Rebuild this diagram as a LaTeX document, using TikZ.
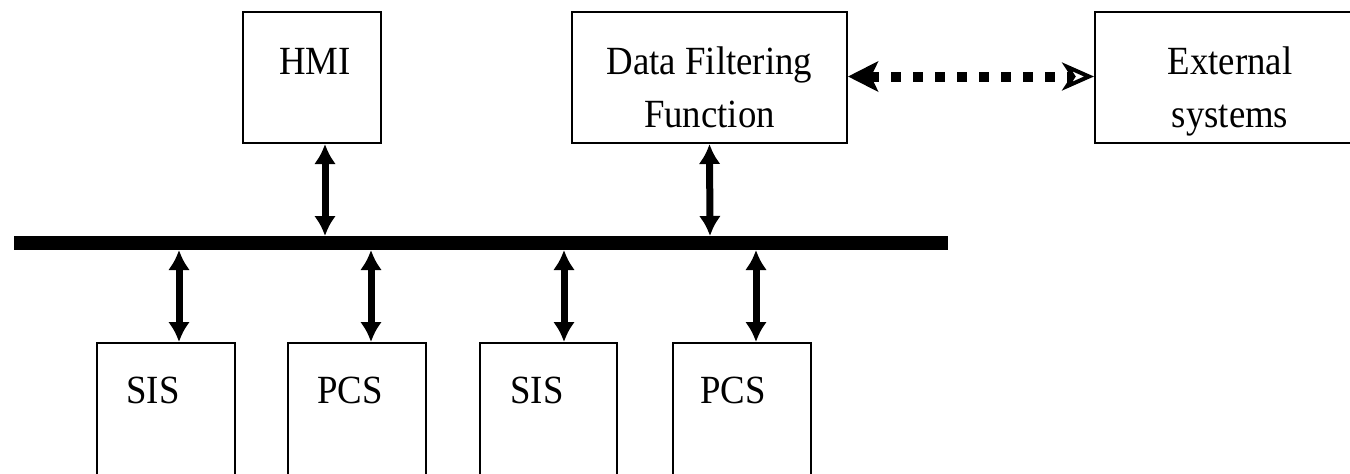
\documentclass[tikz,border=0pt]{standalone}
\usepackage{fontspec}
\setmainfont{Liberation Serif}
\usetikzlibrary{arrows.meta}
\newcommand\narrowtxt[1]{\scalebox{0.92}[1]{#1}}
\begin{document}
\begin{tikzpicture}[x=1pt,y=-1pt,
  box/.style={draw, line width=2pt, inner sep=0pt},
  txt/.style={inner sep=0pt, anchor=base, font=\fontsize{40pt}{53pt}\selectfont},
  bidir/.style={line width=7pt, {Latex[length=20pt,width=22pt]}-{Latex[length=20pt,width=22pt]}},
  bus/.style={line width=14pt},
  dotarrow/.style={line width=10pt, dash pattern=on 10pt off 12pt,
    {Stealth[length=30pt,width=30pt,inset=7pt]}-{Stealth[open,length=32pt,width=28pt,inset=9pt,line width=4pt]}}]
\useasboundingbox (0,0) rectangle (1350,474);
\clip (0,0) rectangle (1350,474);
% top boxes
\node[box, minimum width=138pt, minimum height=131pt] (hmi) at (312,77.5) {};
\node[box, minimum width=275pt, minimum height=131pt] (dff) at (709.5,77.5) {};
\node[box, minimum width=280pt, minimum height=131pt, anchor=west] (ext) at (1094,77.5) {};
\node[txt] (thmi) at (315,74) {\narrowtxt{HMI}};
\node[txt] (tdff1) at (709.5,74) {\narrowtxt{Data Filtering}};
\node[txt] (tdff2) at (709.5,127) {\narrowtxt{Function}};
\node[txt] (text1) at (1230,74) {\narrowtxt{External}};
\node[txt] (text2) at (1230,127) {\narrowtxt{systems}};
% bus
\coordinate (busl) at (14,243);
\coordinate (busr) at (948,243);
\draw[bus] (busl) -- (busr);
% bottom boxes
\node[box, minimum width=138pt, minimum height=200pt, anchor=north] (sis1) at (166,342) {};
\node[box, minimum width=138pt, minimum height=200pt, anchor=north] (pcs1) at (357,342) {};
\node[box, minimum width=137pt, minimum height=200pt, anchor=north] (sis2) at (548.5,342) {};
\node[box, minimum width=138pt, minimum height=200pt, anchor=north] (pcs2) at (742,342) {};
\node[txt] (tsis1) at (153,403) {\narrowtxt{SIS}};
\node[txt] (tpcs1) at (350,403) {\narrowtxt{PCS}};
\node[txt] (tsis2) at (537,403) {\narrowtxt{SIS}};
\node[txt] (tpcs2) at (733,403) {\narrowtxt{PCS}};
% bus taps
\coordinate (bh) at (325,236);
\coordinate (bd) at (710,236);
\coordinate (b1) at (179,250);
\coordinate (b2) at (371,250);
\coordinate (b3) at (564,250);
\coordinate (b4) at (756,250);
% connectors
\draw[bidir] ([xshift=13pt]hmi.south) -- (bh);
\draw[bidir] (dff.south) -- (bd);
\draw[bidir] (b1) -- ([xshift=13pt]sis1.north);
\draw[bidir] (b2) -- ([xshift=14pt]pcs1.north);
\draw[bidir] (b3) -- ([xshift=15.5pt]sis2.north);
\draw[bidir] (b4) -- ([xshift=14pt]pcs2.north);
\draw[dotarrow] ([yshift=1pt]dff.east) -- ([yshift=1pt]ext.west);
\end{tikzpicture}
\end{document}
